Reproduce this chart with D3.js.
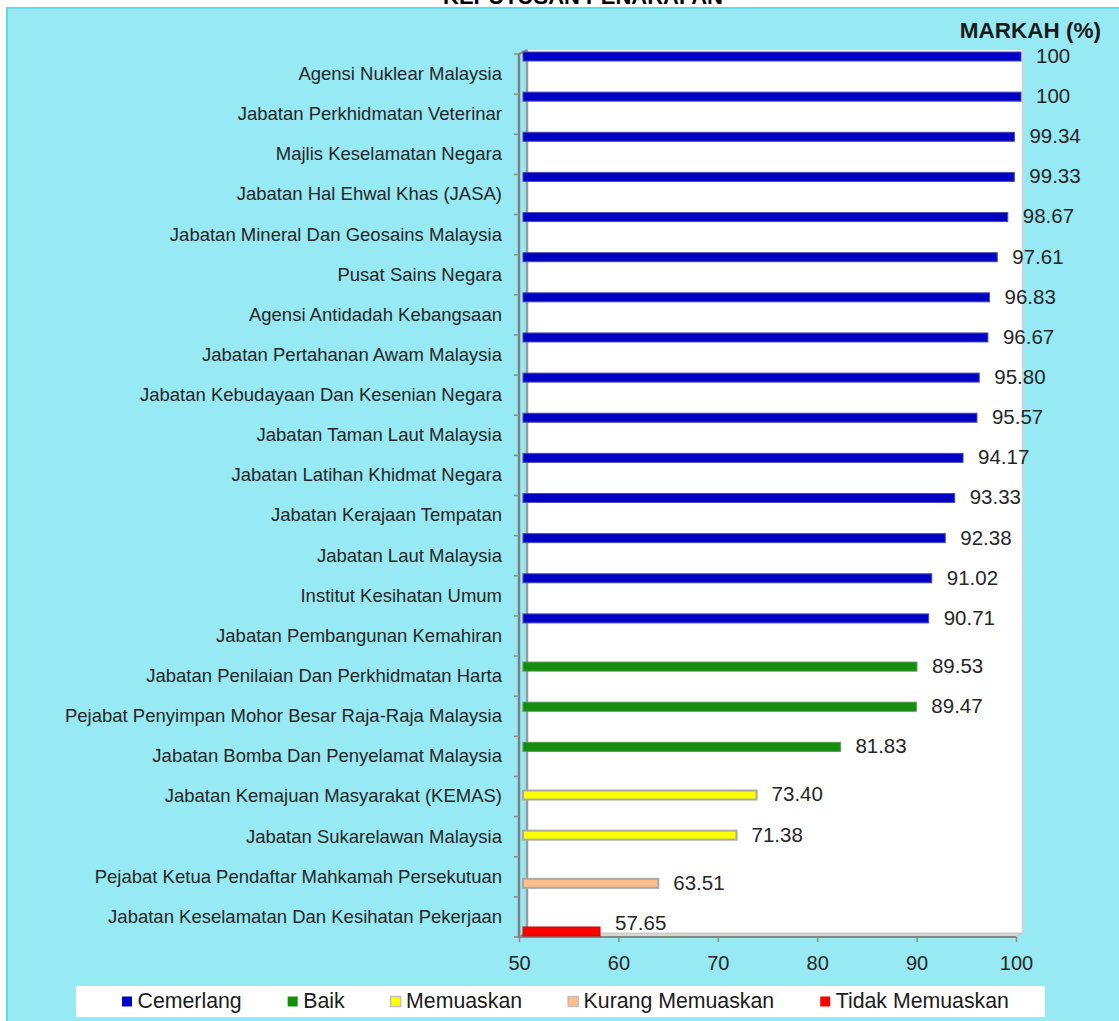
<!DOCTYPE html>
<html>
<head>
<meta charset="utf-8">
<script src="https://cdn.jsdelivr.net/npm/d3@7"></script>
<style>
  html, body { margin: 0; padding: 0; background: #ffffff; }
  svg { display: block; font-family: "Liberation Sans", Arial, sans-serif; }
</style>
</head>
<body>
<svg id="chart" width="1119" height="1021"></svg>
<script>
// ---------------- DATA ----------------
const title = "KEPUTUSAN PENARAFAN";
const axisTitle = "MARKAH (%)";
const categories = [
  "Agensi Nuklear Malaysia",
  "Jabatan Perkhidmatan Veterinar",
  "Majlis Keselamatan Negara",
  "Jabatan Hal Ehwal Khas (JASA)",
  "Jabatan Mineral Dan Geosains Malaysia",
  "Pusat Sains Negara",
  "Agensi Antidadah Kebangsaan",
  "Jabatan Pertahanan Awam Malaysia",
  "Jabatan Kebudayaan Dan Kesenian Negara",
  "Jabatan Taman Laut Malaysia",
  "Jabatan Latihan Khidmat Negara",
  "Jabatan Kerajaan Tempatan",
  "Jabatan Laut Malaysia",
  "Institut Kesihatan Umum",
  "Jabatan Pembangunan Kemahiran",
  "Jabatan Penilaian Dan Perkhidmatan Harta",
  "Pejabat Penyimpan Mohor Besar Raja-Raja Malaysia",
  "Jabatan Bomba Dan Penyelamat Malaysia",
  "Jabatan Kemajuan Masyarakat (KEMAS)",
  "Jabatan Sukarelawan Malaysia",
  "Pejabat Ketua Pendaftar Mahkamah Persekutuan",
  "Jabatan Keselamatan Dan Kesihatan Pekerjaan"
];
const values = [100, 100, 99.34, 99.33, 98.67, 97.61, 96.83, 96.67, 95.80, 95.57,
  94.17, 93.33, 92.38, 91.02, 90.71, 89.53, 89.47, 81.83, 73.40, 71.38, 63.51, 57.65];
const valueLabels = ["100", "100", "99.34", "99.33", "98.67", "97.61", "96.83", "96.67", "95.80", "95.57",
  "94.17", "93.33", "92.38", "91.02", "90.71", "89.53", "89.47", "81.83", "73.40", "71.38", "63.51", "57.65"];
const ratings = [
  "Cemerlang", "Cemerlang", "Cemerlang", "Cemerlang", "Cemerlang", "Cemerlang", "Cemerlang", "Cemerlang",
  "Cemerlang", "Cemerlang", "Cemerlang", "Cemerlang", "Cemerlang", "Cemerlang", "Cemerlang",
  "Baik", "Baik", "Baik", "Memuaskan", "Memuaskan", "Kurang Memuaskan", "Tidak Memuaskan"
];
const seriesNames = ["Cemerlang", "Baik", "Memuaskan", "Kurang Memuaskan", "Tidak Memuaskan"];
const seriesFill = ["#0000c4", "#148c0c", "#ffff00", "#fbbd8d", "#ff0000"];
const seriesStroke = ["#4b4bb0", "#4f9a48", "#a9a9a9", "#a9a9a9", "#c41010"];
const xTicks = [50, 60, 70, 80, 90, 100];

// ---------------- LAYOUT ----------------
const svg = d3.select("#chart");
const W = 1119, H = 1021;
const depthX = 8, depthY = 4;

// background panel
svg.append("rect").attr("x", 7).attr("y", 8).attr("width", W).attr("height", H)
  .attr("fill", "#97e9f3").attr("stroke", "#5fdbe7").attr("stroke-width", 2);

// title (cut off at top, as in the reference)
svg.append("text").attr("x", 583).attr("y", 4).attr("text-anchor", "middle")
  .attr("font-weight", "bold").attr("font-size", 22).attr("fill", "#000")
  .text(title);

const x = d3.scaleLinear().domain([50, 100]).range([519, 1016]);
const y = d3.scaleBand().domain(categories).range([54, 937]).paddingInner(0).paddingOuter(0);
const ys = d3.scaleBand().domain(seriesNames).range([0, y.bandwidth()]);
const colorFill = d3.scaleOrdinal().domain(seriesNames).range(seriesFill);
const colorStroke = d3.scaleOrdinal().domain(seriesNames).range(seriesStroke);

const x0 = x.range()[0], x1 = x.range()[1];
const y0 = y.range()[0], y1 = y.range()[1];

// back wall
svg.append("rect")
  .attr("x", x0 + depthX).attr("y", y0 - depthY)
  .attr("width", (x1 + 6) - (x0 + depthX)).attr("height", (y1 - depthY) - (y0 - depthY))
  .attr("fill", "#ffffff");
svg.append("line").attr("x1", x1 + 6.5).attr("x2", x1 + 6.5)
  .attr("y1", y0 - depthY).attr("y2", y1 - depthY)
  .attr("stroke", "#d4d4d4").attr("stroke-width", 1.5);

// floor
svg.append("polygon")
  .attr("points", [[x0, y1], [x1, y1], [x1 + 6, y1 - depthY], [x0 + depthX, y1 - depthY]].map(p => p.join(",")).join(" "))
  .attr("fill", "#d6d6d6").attr("stroke", "#bdbdbd").attr("stroke-width", 0.8);
svg.append("line").attr("x1", x0).attr("x2", x1).attr("y1", y1).attr("y2", y1)
  .attr("stroke", "#858585").attr("stroke-width", 2);

// left wall edges
svg.append("line").attr("x1", x0 + depthX).attr("x2", x0 + depthX)
  .attr("y1", y0 - depthY).attr("y2", y1 - depthY)
  .attr("stroke", "#9a9a9a").attr("stroke-width", 2.5);
svg.append("line").attr("x1", x0).attr("x2", x0 + depthX)
  .attr("y1", y0).attr("y2", y0 - depthY)
  .attr("stroke", "#8a8a8a").attr("stroke-width", 2);
svg.append("line").attr("x1", x0).attr("x2", x0 + depthX)
  .attr("y1", y1).attr("y2", y1 - depthY)
  .attr("stroke", "#8a8a8a").attr("stroke-width", 2);
svg.append("line").attr("x1", x0).attr("x2", x0)
  .attr("y1", y0).attr("y2", y1 + 1)
  .attr("stroke", "#7f7f7f").attr("stroke-width", 2.5);

// left tick marks at band boundaries
const boundaries = categories.map(c => y(c)).concat([y1]);
svg.append("g").selectAll("line").data(boundaries).join("line")
  .attr("x1", x0 - 5).attr("x2", x0).attr("y1", d => d).attr("y2", d => d)
  .attr("stroke", "#8a8a8a").attr("stroke-width", 1.5);

// category labels
const yAxis = d3.axisLeft(y).tickSize(0).tickPadding(17);
const gy = svg.append("g").attr("transform", `translate(${x0},0)`).call(yAxis);
gy.select(".domain").remove();
gy.selectAll("text").attr("font-size", 18.5).attr("fill", "#262626")
  .attr("font-family", "Liberation Sans, Arial, sans-serif");

// x axis
const xAxis = d3.axisBottom(x).tickValues(xTicks).tickSize(5).tickPadding(14);
const gx = svg.append("g").attr("transform", `translate(0,${y1})`).call(xAxis);
gx.select(".domain").remove();
gx.selectAll("line").attr("stroke", "#8a8a8a").attr("stroke-width", 1.5);
gx.selectAll("text").attr("font-size", 20).attr("fill", "#262626")
  .attr("font-family", "Liberation Sans, Arial, sans-serif");

// bars
const rows = categories.map((c, i) => ({ c, v: values[i], label: valueLabels[i], r: ratings[i] }));
const barH = ys.bandwidth() + 1;
const barTop = d => y(d.c) + ys(d.r) - 2;
svg.append("g").selectAll("rect").data(rows).join("rect")
  .attr("x", x0 + 4)
  .attr("y", barTop)
  .attr("width", d => x(d.v) + 5 - (x0 + 4))
  .attr("height", barH)
  .attr("fill", d => colorFill(d.r))
  .attr("stroke", d => colorStroke(d.r))
  .attr("stroke-width", d => (d.r === "Memuaskan" || d.r === "Kurang Memuaskan") ? 2 : 1);

// value labels
svg.append("g").selectAll("text").data(rows).join("text")
  .attr("x", d => x(d.v) + 5 + 15)
  .attr("y", d => Math.min(barTop(d) + barH / 2 + 1, y1 - 12))
  .attr("dominant-baseline", "middle")
  .attr("font-size", 20.5).attr("fill", "#262626")
  .text(d => d.label);

// axis title
svg.append("text").attr("x", 1101).attr("y", 38).attr("text-anchor", "end")
  .attr("font-weight", "bold").attr("font-size", 22.5).attr("fill", "#1a1a1a")
  .text(axisTitle);

// legend
svg.append("rect").attr("x", 76).attr("y", 986).attr("width", 969).attr("height", 31)
  .attr("fill", "#ffffff");
let lx = 122;
const legendY = 1002;
seriesNames.forEach((s, i) => {
  svg.append("rect").attr("x", lx).attr("y", legendY - 5.5).attr("width", 10).attr("height", 10)
    .attr("fill", seriesFill[i])
    .attr("stroke", (s === "Memuaskan" || s === "Kurang Memuaskan") ? "#c0c0c0" : "none")
    .attr("stroke-width", 1.5);
  const t = svg.append("text").attr("x", lx + 15.5).attr("y", legendY)
    .attr("dominant-baseline", "middle").attr("font-size", 21.3).attr("fill", "#1a1a1a")
    .text(s);
  const w = t.node().getComputedTextLength();
  lx = lx + 15.5 + w + 46;
});
</script>
</body>
</html>
